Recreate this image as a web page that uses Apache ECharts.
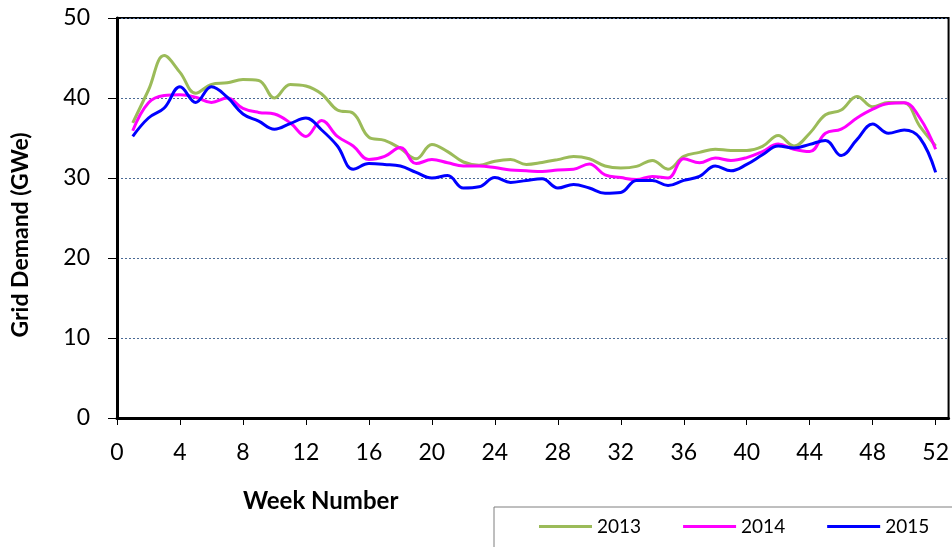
<!DOCTYPE html>
<html>
<head>
<meta charset="utf-8">
<script src="https://cdn.jsdelivr.net/npm/echarts@6/dist/echarts.min.js"></script>
<style>
  html, body { margin: 0; padding: 0; background: #fff; }
  #chart { width: 952px; height: 547px; }
</style>
</head>
<body>
<div id="chart"></div>
<script>
// weekly grid demand (GWe)
const weeks = [];
for (let w = 1; w <= 52; w++) weeks.push(w);

const y2013 = [36.9, 41.0, 45.3, 43.2, 40.6, 41.7, 41.9, 42.3, 42.2, 40.0,
  41.7, 41.5, 40.5, 38.5, 38.1, 35.1, 34.7, 33.7, 32.4, 34.2,
  33.3, 32.0, 31.6, 32.1, 32.3, 31.7, 31.95, 32.3, 32.7, 32.4,
  31.5, 31.25, 31.45, 32.2, 31.1, 32.7, 33.2, 33.6, 33.45, 33.45,
  33.95, 35.3, 34.0, 35.6, 37.9, 38.5, 40.2, 38.9, 39.45, 39.4,
  36.45, 34.0];
const y2014 = [35.9, 39.4, 40.3, 40.4, 40.1, 39.45, 40.0, 38.7, 38.2, 38.0,
  36.9, 35.2, 37.2, 35.2, 34.0, 32.3, 32.7, 33.8, 31.8, 32.3,
  31.9, 31.5, 31.5, 31.3, 31.0, 30.9, 30.8, 31.0, 31.1, 31.75,
  30.4, 30.05, 29.8, 30.2, 30.0, 32.4, 31.9, 32.5, 32.2, 32.55,
  33.3, 34.25, 33.6, 33.3, 35.6, 36.1, 37.5, 38.6, 39.3, 39.4,
  37.5, 33.6];
const y2015 = [35.2, 37.5, 38.75, 41.4, 39.45, 41.4, 40.1, 38.0, 37.1, 36.1,
  36.8, 37.5, 36.0, 34.0, 31.1, 31.8, 31.7, 31.5, 30.7, 30.0,
  30.3, 28.75, 28.9, 30.05, 29.45, 29.7, 29.9, 28.75, 29.2, 28.75,
  28.1, 28.2, 29.7, 29.7, 29.05, 29.7, 30.2, 31.5, 30.9, 31.7,
  32.9, 34.0, 33.75, 34.2, 34.7, 32.8, 34.8, 36.75, 35.6, 36.0,
  35.0, 30.7];

const xTicks = [0, 4, 8, 12, 16, 20, 24, 28, 32, 36, 40, 44, 48, 52];
const seriesNames = ['2013', '2014', '2015'];
const seriesColors = ['#9bbb59', '#ff00ff', '#0000ff'];

const font = 'Lato, "Open Sans", sans-serif';

function pairs(vals) {
  return weeks.map((w, i) => [w, vals[i]]);
}

const chart = echarts.init(document.getElementById('chart'));
chart.setOption({
  animation: false,
  textStyle: { fontFamily: font },
  grid: {
    left: 117, right: 2, top: 18, bottom: 129,
    show: true, borderColor: '#000', borderWidth: 2
  },
  legend: {
    data: seriesNames,
    orient: 'horizontal',
    left: 494, top: 507, width: 600,
    padding: [10, 60, 20, 45],
    itemGap: 42,
    itemWidth: 53, itemHeight: 3,
    icon: 'rect',
    borderColor: '#7f7f7f', borderWidth: 1,
    textStyle: { fontSize: 19, color: '#000', fontFamily: font }
  },
  xAxis: {
    type: 'value',
    min: 0, max: 52.82,
    axisLine: { lineStyle: { color: '#000', width: 3 } },
    axisTick: { customValues: xTicks, length: 7, lineStyle: { color: '#000', width: 1 } },
    axisLabel: { customValues: xTicks, fontSize: 23, color: '#000', margin: 23 },
    splitLine: { show: false }
  },
  yAxis: {
    type: 'value',
    min: 0, max: 50, interval: 10,
    axisLine: { show: true, lineStyle: { color: '#000', width: 3 } },
    axisTick: { show: true, length: 9, lineStyle: { color: '#000', width: 1 } },
    axisLabel: { fontSize: 23, color: '#000', margin: 27 },
    splitLine: { lineStyle: { color: '#4a6a96', type: [2, 2], width: 1 } }
  },
  graphic: [
    {
      type: 'text', left: 243, top: 489,
      style: { text: 'Week Number', font: 'bold 24px ' + font, fill: '#000' }
    },
    {
      type: 'text', x: 21, y: 235, rotation: Math.PI / 2,
      style: {
        text: 'Grid Demand (GWe)', font: 'bold 23px ' + font, fill: '#000',
        align: 'center', verticalAlign: 'middle'
      }
    }
  ],
  series: seriesNames.map((name, i) => ({
    name: name,
    type: 'line',
    data: pairs([y2013, y2014, y2015][i]),
    smooth: 0.4,
    showSymbol: false,
    symbol: 'none',
    lineStyle: { color: seriesColors[i], width: 3 },
    itemStyle: { color: seriesColors[i] },
    z: 3 + i
  }))
});
</script>
</body>
</html>
